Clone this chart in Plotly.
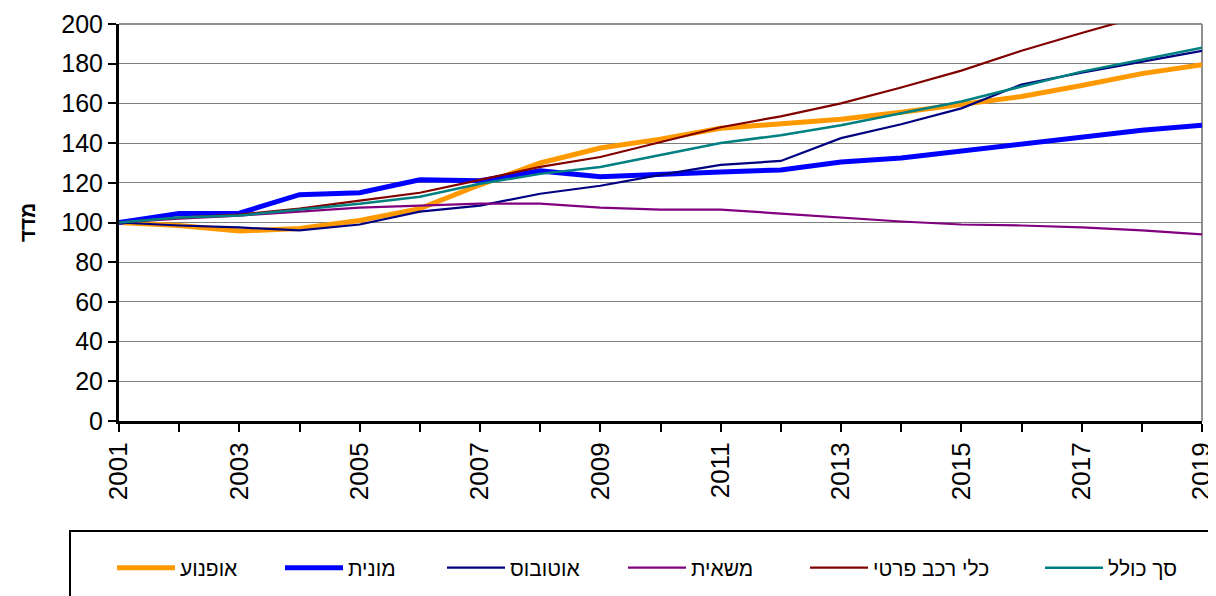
import plotly.graph_objects as go

years = list(range(2001, 2020))

names = ["אופנוע", "מונית", "אוטובוס", "משאית", "כלי רכב פרטי", "סך כולל"]

motorcycle = [100, 98.5, 95.7, 97, 101, 107, 119, 130, 137.5, 142, 147.5, 150, 152, 155.5, 159.5, 163.5, 169, 175, 179.5]
taxi = [100, 104.5, 104.7, 114, 115, 121.5, 121, 126, 123, 124.5, 125.5, 126.5, 130.5, 132.5, 136, 139.5, 143.5, 146.5, 149]
bus = [100, 98.5, 97.5, 96, 99, 105.5, 108.5, 114.5, 118.5, 124, 129, 131, 142.5, 149.5, 157.5, 169.5, 175.5, 181, 186.5]
truck = [100, 102, 103.5, 105.5, 107.5, 108.5, 109.5, 109.5, 107.5, 106.5, 106.5, 104.5, 102.5, 100.5, 99, 98.5, 97.5, 96, 94]
private = [100, 102.5, 104, 107, 111, 115, 121.5, 128, 133, 140.5, 148, 153.5, 160, 168, 176.5, 186.5, 195.5, 204, 213]
total = [100, 102.5, 103.5, 106.5, 109.5, 113, 119.5, 124.5, 128, 134, 140, 144, 149, 155, 161, 168.5, 176, 182, 188]

series = [motorcycle, taxi, bus, truck, private, total]
colors = ["#FF9900", "#0000FF", "#000080", "#800080", "#800000", "#008080"]
widths = [5, 5, 2.2, 2.2, 2.2, 2.5]

# page geometry (the page body has an 8px margin, so the figure is shrunk by that)
OFF = 8
W, H = 1216 - OFF, 596 - OFF
L, T = 119 - OFF, 24 - OFF
R = W - (1202 - OFF)
B = H - (421 - OFF)
PW, PH = W - L - R, H - T - B


def px_x(p):  # p: x position in page pixels
    return (p - OFF - L) / PW


def px_y(p):  # p: y position in page pixels
    return (H - B - (p - OFF)) / PH


legend_left_px = [112, 280, 442, 623, 805, 1040]
legend_names = ["legend", "legend2", "legend3", "legend4", "legend5", "legend6"]

font_family = "Liberation Sans, Arial, sans-serif"

fig = go.Figure()
for n, s, c, w, lg in zip(names, series, colors, widths, legend_names):
    fig.add_trace(go.Scatter(x=years, y=s, name=n, mode="lines", legend=lg,
                             line=dict(color=c, width=w)))

legend_layout = {}
for lg, lx in zip(legend_names, legend_left_px):
    legend_layout[lg] = dict(orientation="h", x=px_x(lx), y=px_y(568),
                             xref="paper", yref="paper", xanchor="left", yanchor="middle",
                             font=dict(size=21, family=font_family, color="black"),
                             itemwidth=58, bgcolor="rgba(0,0,0,0)", borderwidth=0)

fig.update_layout(
    width=W, height=H,
    margin=dict(l=L, r=R, t=T, b=B, autoexpand=False),
    plot_bgcolor="white", paper_bgcolor="white",
    font=dict(family=font_family, color="black", size=24),
    showlegend=True,
    **legend_layout,
    xaxis=dict(range=[2001, 2019], tickmode="array",
               tickvals=list(range(2001, 2020, 2)),
               ticktext=[str(y) for y in range(2001, 2020, 2)],
               tickangle=-90, ticks="outside", ticklen=8, tickwidth=2, tickcolor="black",
               minor=dict(tickvals=list(range(2002, 2020, 2)), ticks="outside",
                          ticklen=8, tickwidth=2, tickcolor="black", showgrid=False),
               showline=True, linecolor="black", linewidth=3, showgrid=False,
               zeroline=False, mirror=False, tickfont=dict(size=26), automargin=False,
               ticklabeloverflow="allow"),
    yaxis=dict(range=[0, 200], dtick=20, ticks="outside", ticklen=8, tickwidth=2,
               tickcolor="black", showline=True, linecolor="black", linewidth=3,
               showgrid=True, gridcolor="#7f7f7f", gridwidth=1, zeroline=False,
               tickfont=dict(size=25), automargin=False, ticklabeloverflow="allow",
               title=dict(text="<b>מדד</b>", font=dict(size=21), standoff=20)),
)

# plot area border (top/right)
fig.add_shape(type="line", xref="paper", yref="paper", x0=0, x1=1, y0=1, y1=1,
              line=dict(color="#909090", width=2), layer="below")
fig.add_shape(type="line", xref="paper", yref="paper", x0=1, x1=1, y0=0, y1=1,
              line=dict(color="#909090", width=2), layer="below")

# legend box extending past the page edge
fig.add_shape(type="rect", xref="paper", yref="paper",
              x0=px_x(70), x1=px_x(1240), y0=px_y(620), y1=px_y(531),
              line=dict(color="black", width=2), fillcolor="rgba(0,0,0,0)")

fig.write_html("out.html")
